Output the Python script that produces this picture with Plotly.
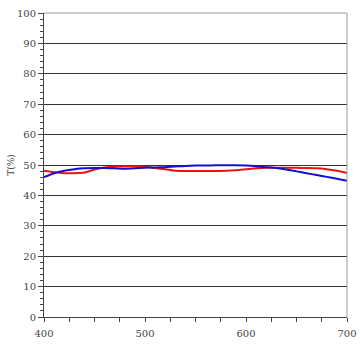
import plotly.graph_objects as go

wavelength = [400, 410, 420, 430, 440, 450, 460, 470, 480, 490, 500, 510, 520, 530, 540,
              550, 560, 570, 580, 590, 600, 610, 620, 630, 640, 650, 660, 670, 680, 690, 700]
red_T = [48.1, 47.6, 47.3, 47.3, 47.5, 48.5, 49.2, 49.5, 49.6, 49.6, 49.4, 49.0, 48.6, 48.1, 48.0,
         48.0, 48.0, 48.0, 48.1, 48.3, 48.6, 48.9, 49.1, 49.1, 49.1, 49.1, 49.0, 48.9, 48.6, 48.1, 47.4]
blue_T = [46.0, 47.3, 48.1, 48.6, 48.9, 49.0, 49.0, 48.9, 48.8, 48.9, 49.1, 49.2, 49.3, 49.5, 49.7,
          49.8, 49.8, 49.9, 49.9, 49.9, 49.8, 49.6, 49.3, 49.0, 48.5, 47.9, 47.3, 46.7, 46.1, 45.5, 44.8]
y_title = "T(%)"

fig = go.Figure()
fig.add_trace(go.Scatter(x=wavelength, y=red_T, mode="lines",
                         line=dict(color="#ee1111", width=2, shape="spline", smoothing=0.6)))
fig.add_trace(go.Scatter(x=wavelength, y=blue_T, mode="lines",
                         line=dict(color="#1111cc", width=2, shape="spline", smoothing=0.6)))

font = dict(family="DejaVu Serif", size=10, color="#444444")
fig.update_layout(
    width=360, height=360,
    margin=dict(l=44, r=13, t=13, b=43),
    paper_bgcolor="white", plot_bgcolor="white",
    showlegend=False,
    font=font,
    xaxis=dict(range=[400, 700], dtick=100, tick0=400, showgrid=False, zeroline=False, automargin=False,
               showline=True, linecolor="#444444", linewidth=1,
               ticks="outside", ticklen=4, tickcolor="#444444", ticklabelstandoff=3,
               minor=dict(dtick=25, tick0=400, ticks="outside", ticklen=4, tickcolor="#444444", showgrid=False)),
    yaxis=dict(range=[0, 100], dtick=10, showgrid=True, gridcolor="#333333", gridwidth=1,
               zeroline=False, showline=True, linecolor="#444444", linewidth=1, automargin=False,
               ticks="outside", ticklen=5, tickcolor="#444444",
               minor=dict(dtick=2, ticks="outside", ticklen=3, tickcolor="#444444", showgrid=False),
               title=dict(text=y_title, standoff=0, font=dict(family="DejaVu Serif", size=9, color="#444444"))),
    shapes=[
        dict(type="line", xref="paper", yref="paper", x0=0, x1=1, y0=1, y1=1,
             line=dict(color="#999999", width=1)),
        dict(type="line", xref="paper", yref="paper", x0=1, x1=1, y0=0, y1=1,
             line=dict(color="#999999", width=1)),
    ],
)

fig.write_html("out.html", config={"displayModeBar": False},
               post_script="document.body.style.margin='0';")
